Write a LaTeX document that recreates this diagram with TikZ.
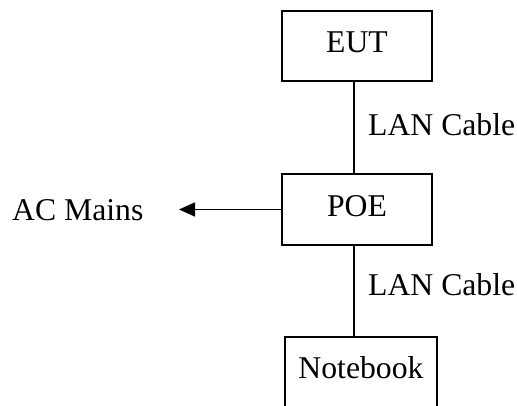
\documentclass[tikz,border=0pt]{standalone}
\usepackage{fontspec}
\setmainfont{Liberation Serif}
\usetikzlibrary{arrows.meta}
\begin{document}
\begin{tikzpicture}[x=1pt,y=-1pt,
    every node/.style={font=\fontsize{31.7}{38}\selectfont},
    unit/.style={draw,line width=1.6pt,minimum width=150pt,inner sep=0pt},
    label/.style={inner sep=0pt,anchor=base west},
    wire/.style={line width=1.6pt}]
  \useasboundingbox (0,0) rectangle (517,406);
  \clip (0,0) rectangle (517,406);
  % equipment boxes
  \node[unit,minimum height=70pt] (eut) at (357,46) {};
  \node[inner sep=0pt,anchor=base] at (357,53) {EUT};
  \node[unit,minimum height=71pt] (poe) at (357,209.5) {};
  \node[inner sep=0pt,anchor=base] at (357,217) {POE};
  \node[unit,minimum width=152pt,minimum height=110pt] (nb) at (361,392) {};
  \node[inner sep=0pt,anchor=base] at (361,378) {Notebook};
  % cable run
  \coordinate (spine) at (354,0);
  \draw[wire] (eut.south -| spine) -- (poe.north -| spine);
  \draw[wire] (poe.south -| spine) -- (nb.north -| spine);
  \node[label] at (368,136) {LAN Cable};
  \node[label] at (368,296) {LAN Cable};
  % mains supply
  \node[label] (ac) at (12,221) {AC Mains};
  \coordinate (actip) at (179,209.5);
  \draw[wire,-{Triangle[length=16pt,width=14pt]}] (poe.west) -- (actip);
\end{tikzpicture}
\end{document}
